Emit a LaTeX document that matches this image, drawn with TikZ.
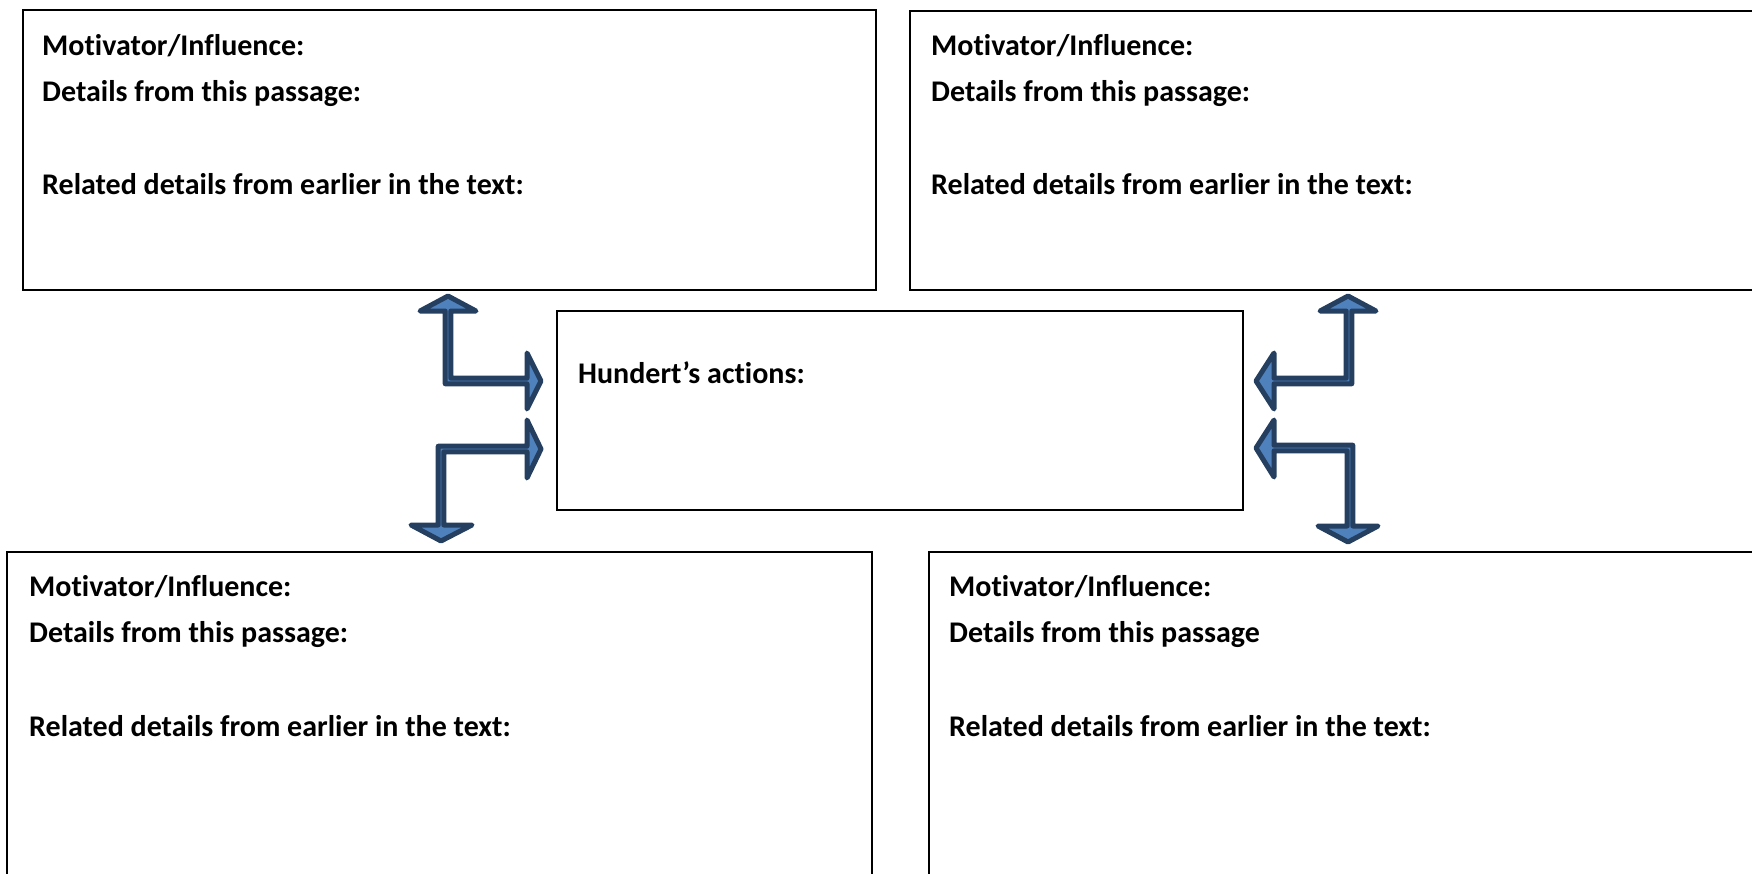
\documentclass[tikz,border=0pt]{standalone}
\usepackage{fontspec}
\setmainfont{Carlito}[Ligatures=NoCommon]
\begin{document}
\begin{tikzpicture}[x=1pt,y=-1pt,
  frame/.style={draw=black,line width=1.6pt,fill=none},
  lbl/.style={anchor=base west,inner sep=0pt,font=\fontsize{30}{36}\selectfont\bfseries},
  bent/.style={fill=arrowfill,draw=arrowline,line width=5pt,line join=round}]
\definecolor{arrowfill}{HTML}{4F81BD}
\definecolor{arrowline}{HTML}{243F60}
\useasboundingbox (0,0) rectangle (1752,873);
\clip (0,0) rectangle (1752,873);
% boxes
\draw[frame] (23,10) rectangle (876,290);
\draw[frame] (910,11) rectangle (1765,290);
\draw[frame] (7,552) rectangle (872,885);
\draw[frame] (929,552) rectangle (1765,885);
\draw[frame] (557,311) rectangle (1243,510);
% texts
\node[lbl] (tl1) at (42,55) {Motivator/Influence:};
\node[lbl] (tl2) at (42,101) {Details from this passage:};
\node[lbl] (tl3) at (42,194) {Related details from earlier in the text:};
\node[lbl] (tr1) at (931,55) {Motivator/Influence:};
\node[lbl] (tr2) at (931,101) {Details from this passage:};
\node[lbl] (tr3) at (931,194) {Related details from earlier in the text:};
\node[lbl] (bl1) at (29,596) {Motivator/Influence:};
\node[lbl] (bl2) at (29,642) {Details from this passage:};
\node[lbl] (bl3) at (29,736) {Related details from earlier in the text:};
\node[lbl] (br1) at (949,596) {Motivator/Influence:};
\node[lbl] (br2) at (949,642) {Details from this passage};
\node[lbl] (br3) at (949,736) {Related details from earlier in the text:};
\node[lbl] (ha) at (578,383) {Hundert’s actions:};
% bent arrows, left
\draw[bent] (448,296) -- (420,311) -- (445.2,311) -- (445.2,383.8) -- (527,383.8) -- (527,409)
  -- (541,381) -- (527,353) -- (527,378.2) -- (450.8,378.2) -- (450.8,311) -- (476,311) -- cycle;
\draw[bent] (541,449) -- (527,420) -- (527,446.2) -- (438.2,446.2) -- (438.2,525) -- (411,525)
  -- (441,541) -- (472,525) -- (443.8,525) -- (443.8,451.8) -- (527,451.8) -- (527,478) -- cycle;
% bent arrows, right
\draw[bent] (1348,296) -- (1376,311) -- (1351.8,311) -- (1351.8,383.8) -- (1274,383.8) -- (1274,409)
  -- (1256,381) -- (1274,353) -- (1274,378.2) -- (1346.2,378.2) -- (1346.2,311) -- (1320,311) -- cycle;
\draw[bent] (1256,448) -- (1274,420) -- (1274,445.2) -- (1352.8,445.2) -- (1352.8,526) -- (1378,526)
  -- (1348,542) -- (1318,526) -- (1347.2,526) -- (1347.2,450.8) -- (1274,450.8) -- (1274,477) -- cycle;
\end{tikzpicture}
\end{document}
